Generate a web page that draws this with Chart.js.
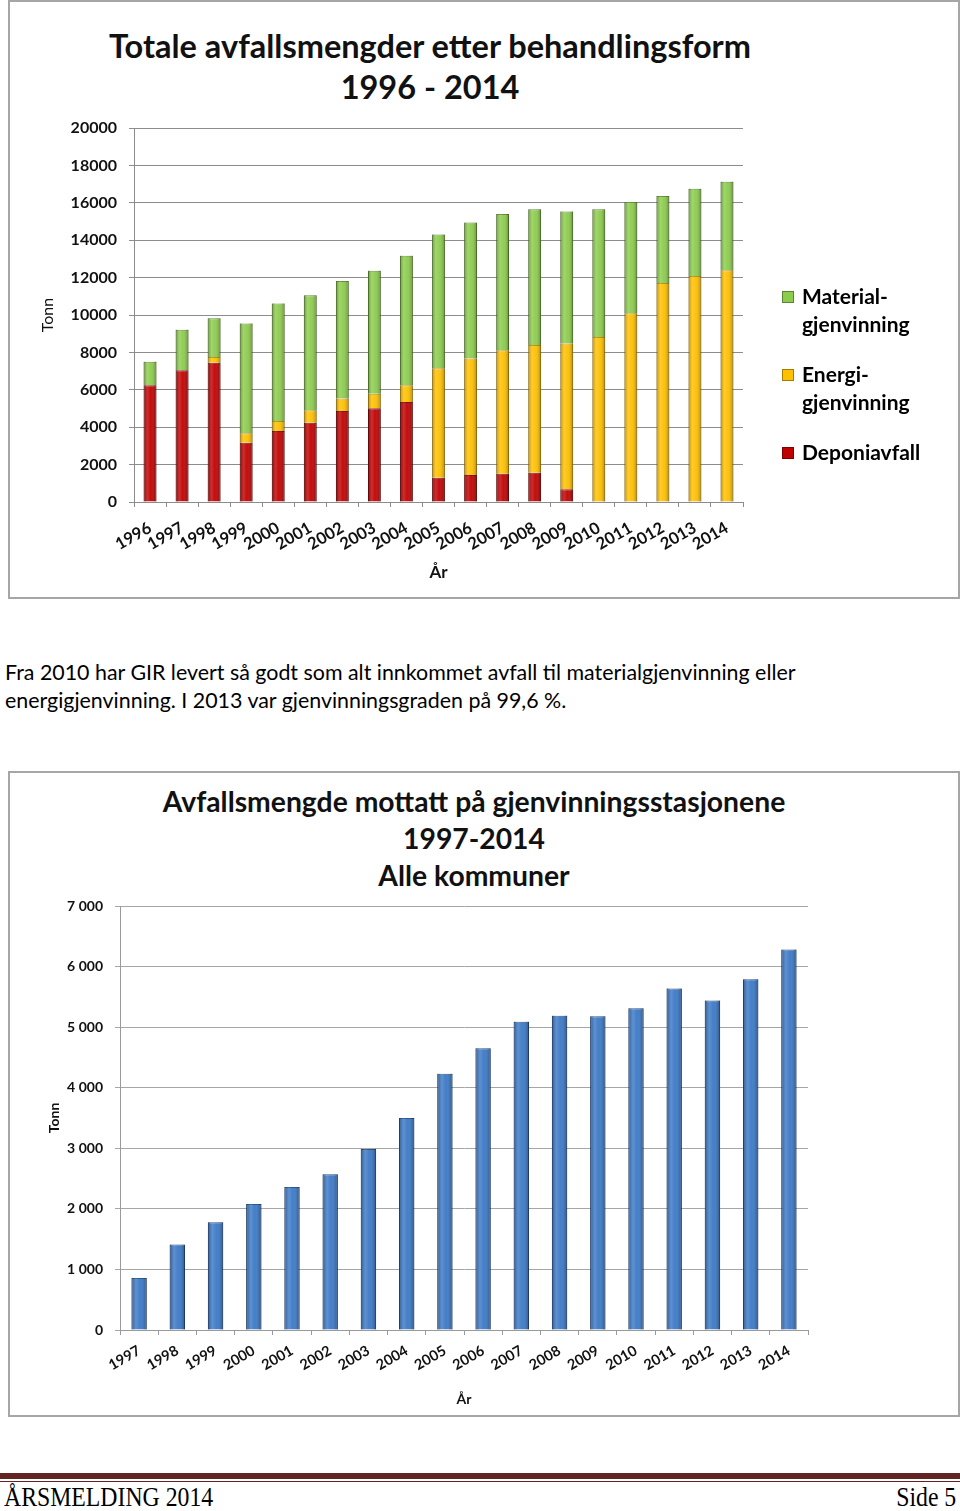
<!DOCTYPE html>
<html lang="no">
<head>
<meta charset="utf-8">
<title>Årsmelding 2014 - side 5</title>
<script src="https://cdn.jsdelivr.net/npm/chart.js@4.4.1/dist/chart.umd.min.js"></script>
<style>
    html, body { margin: 0; padding: 0; background: #fff; }
    body { width: 960px; height: 1511px; position: relative; overflow: hidden; font-family: Lato, "Noto Sans", sans-serif; color: #000; }
    .box { position: absolute; left: 8px; width: 948px; border: 2px solid #a6a6a6; background: #fff; }
    .chartWrap { position: absolute; left: 0; top: 0; }
    .title { position: absolute; left: 0; text-align: center; font-weight: 700; color: #111; }
    .legend { position: absolute; left: 772px; top: 280px; font-weight: 700; font-size: 21px; line-height: 28px; }
    .legend .item { position: relative; padding-left: 20px; margin-bottom: 22px; }
    .legend .sw { position: absolute; left: 0; top: 9px; width: 12px; height: 12px; border: 1px solid rgba(0,0,0,0.35); box-sizing: border-box; }
    .text { position: absolute; left: 5px; top: 658px; font-size: 21.4px; line-height: 28px; white-space: nowrap; }
    .footer-line { position: absolute; left: 0; width: 960px; background: #622423; }
    .footer { position: absolute; top: 1482px; font-family: "Liberation Serif", "DejaVu Serif", serif; font-size: 27px; transform: scaleX(0.88); }
</style>
</head>
<body>

<div class="box" style="top:0; height:595px;">
    <div class="title" style="top:23px; width:840px; font-size:32.5px; line-height:41px;">Totale avfallsmengder etter behandlingsform<br>1996 - 2014</div>
    <div class="chartWrap" style="width:948px; height:595px;"><canvas id="treatChart"></canvas></div>
    <div class="legend">
        <div class="item"><span class="sw" style="background:#8ccc4c"></span>Material-<br>gjenvinning</div>
        <div class="item"><span class="sw" style="background:#ffc000"></span>Energi-<br>gjenvinning</div>
        <div class="item"><span class="sw" style="background:#c00000"></span>Deponiavfall</div>
    </div>
</div>

<div class="text">Fra 2010 har GIR levert så godt som alt innkommet avfall til materialgjenvinning eller<br>energigjenvinning. I 2013 var gjenvinningsgraden på 99,6 %.</div>

<div class="box" style="top:771px; height:642px;">
    <div class="title" style="top:10px; width:928px; font-size:28.3px; line-height:37px;">Avfallsmengde mottatt på gjenvinningsstasjonene<br>1997-2014<br>Alle kommuner</div>
    <div class="chartWrap" style="width:948px; height:642px;"><canvas id="stationChart"></canvas></div>
</div>

<div class="footer-line" style="top:1473px; height:6px;"></div>
<div class="footer-line" style="top:1481px; height:1px;"></div>
<div class="footer" style="left:4px; transform-origin: left top;">ÅRSMELDING 2014</div>
<div class="footer" style="right:4px; transform-origin: right top;">Side 5</div>

<script>
// ===== DATA =====
const years1 = ['1996', '1997', '1998', '1999', '2000', '2001', '2002', '2003', '2004', '2005',
    '2006', '2007', '2008', '2009', '2010', '2011', '2012', '2013', '2014'];
const deponiavfall = [6250, 7040, 7450, 3170, 3800, 4240, 4870, 5010, 5350, 1300,
    1440, 1510, 1570, 680, 0, 0, 0, 0, 0];
const energigjenvinning = [0, 0, 300, 500, 530, 660, 660, 780, 890, 5850,
    6240, 6600, 6830, 7790, 8820, 10090, 11710, 12090, 12390];
const materialgjenvinning = [1250, 2170, 2070, 5880, 6290, 6150, 6290, 6580, 6930, 7160,
    7260, 7290, 7250, 7070, 6830, 5950, 4650, 4660, 4740];
const yTicks1 = [0, 2000, 4000, 6000, 8000, 10000, 12000, 14000, 16000, 18000, 20000];

const years2 = ['1997', '1998', '1999', '2000', '2001', '2002', '2003', '2004', '2005',
    '2006', '2007', '2008', '2009', '2010', '2011', '2012', '2013', '2014'];
const mottatt = [860, 1410, 1780, 2080, 2360, 2570, 2990, 3500, 4230,
    4650, 5090, 5190, 5180, 5310, 5640, 5440, 5790, 6280];
const yTicks2 = ['0', '1 000', '2 000', '3 000', '4 000', '5 000', '6 000', '7 000'];

const FONT = 'Lato, "Noto Sans", sans-serif';

// Cylinder-ish shading over each bar, like the Excel style
const barShine = {
    id: 'barShine',
    afterDatasetsDraw(chart) {
        const ctx = chart.ctx;
        ctx.save();
        chart.data.datasets.forEach((ds, i) => {
            const meta = chart.getDatasetMeta(i);
            meta.data.forEach(bar => {
                const { x, y, base, width } = bar.getProps(['x', 'y', 'base', 'width'], true);
                const h = Math.abs(base - y);
                if (h < 1) return;
                const left = x - width / 2;
                const g = ctx.createLinearGradient(left, 0, left + width, 0);
                g.addColorStop(0, 'rgba(0,0,0,0.28)');
                g.addColorStop(0.3, 'rgba(255,255,255,0.18)');
                g.addColorStop(0.55, 'rgba(255,255,255,0.05)');
                g.addColorStop(1, 'rgba(0,0,0,0.32)');
                ctx.fillStyle = g;
                ctx.fillRect(left, Math.min(y, base), width, h);
            });
        });
        ctx.restore();
    }
};

function fixWidth(w) { return scale => { scale.width = w; }; }
function fixHeight(h) { return scale => { scale.height = h; }; }

// Chart 1: stacked treatment chart
new Chart(document.getElementById('treatChart'), {
    type: 'bar',
    data: {
        labels: years1,
        datasets: [
            { label: 'Deponiavfall', data: deponiavfall, backgroundColor: '#c00000', borderColor: '#7a0000' },
            { label: 'Energigjenvinning', data: energigjenvinning, backgroundColor: '#ffc000', borderColor: '#b98a00' },
            { label: 'Materialgjenvinning', data: materialgjenvinning, backgroundColor: '#8ccc4c', borderColor: '#5a8a2a' }
        ].map(d => Object.assign(d, { borderWidth: 1, barPercentage: 0.8, categoryPercentage: 0.5 }))
    },
    options: {
        responsive: true,
        maintainAspectRatio: false,
        animation: false,
        layout: { padding: { top: 126, right: 215, left: 0, bottom: 0 } },
        plugins: { legend: { display: false }, tooltip: { enabled: false } },
        scales: {
            x: {
                stacked: true,
                afterFit: fixHeight(95),
                grid: { display: true, drawOnChartArea: false, offset: true, tickLength: 5, color: '#8c8c8c' },
                border: { color: '#8c8c8c', width: 1 },
                ticks: {
                    autoSkip: false, minRotation: 30, maxRotation: 30, padding: 11,
                    color: '#111', font: { family: FONT, size: 16.5, weight: 'bold' }
                },
                title: { display: true, text: 'År', color: '#111', padding: { top: 0, bottom: 14 }, font: { family: FONT, size: 17, weight: 'bold' } }
            },
            y: {
                stacked: true,
                min: 0, max: 20000,
                afterFit: fixWidth(124),
                afterBuildTicks: scale => { scale.ticks = yTicks1.map(v => ({ value: v })); },
                grid: { color: '#8c8c8c', tickLength: 5 },
                border: { color: '#8c8c8c', width: 1 },
                ticks: {
                    padding: 12, color: '#111', font: { family: FONT, size: 16, weight: 'bold' },
                    callback: value => String(value)
                },
                title: { display: true, text: 'Tonn', color: '#111', padding: { top: 28, bottom: 0 }, font: { family: FONT, size: 16 } }
            }
        }
    },
    plugins: [barShine]
});

// Chart 2: recycling stations
new Chart(document.getElementById('stationChart'), {
    type: 'bar',
    data: {
        labels: years2,
        datasets: [{
            label: 'Tonn',
            data: mottatt,
            backgroundColor: '#3a78c6',
            borderColor: '#1d4a86',
            borderWidth: 1,
            barPercentage: 0.8,
            categoryPercentage: 0.5
        }]
    },
    options: {
        responsive: true,
        maintainAspectRatio: false,
        animation: false,
        layout: { padding: { top: 133, right: 150, left: 0, bottom: 0 } },
        plugins: { legend: { display: false }, tooltip: { enabled: false } },
        scales: {
            x: {
                afterFit: fixHeight(85),
                grid: { display: true, drawOnChartArea: false, offset: true, tickLength: 5, color: '#9a9a9a' },
                border: { color: '#9a9a9a', width: 1 },
                ticks: {
                    autoSkip: false, minRotation: 30, maxRotation: 30, padding: 7,
                    color: '#111', font: { family: FONT, size: 14.5, weight: 'bold' }
                },
                title: { display: true, text: 'År', color: '#111', padding: { top: 0, bottom: 7 }, font: { family: FONT, size: 14, weight: 'bold' } }
            },
            y: {
                min: 0, max: 7000,
                afterFit: fixWidth(110),
                afterBuildTicks: scale => { scale.ticks = yTicks2.map((t, i) => ({ value: i * 1000 })); },
                grid: { color: '#a6a6a6', tickLength: 5 },
                border: { color: '#9a9a9a', width: 1 },
                ticks: {
                    padding: 12, color: '#111', font: { family: FONT, size: 14, weight: 'bold' },
                    callback: value => yTicks2[Math.round(value / 1000)]
                },
                title: { display: true, text: 'Tonn', color: '#111', padding: { top: 36, bottom: 0 }, font: { family: FONT, size: 14, weight: 'bold' } }
            }
        }
    },
    plugins: [barShine]
});
</script>
</body>
</html>
